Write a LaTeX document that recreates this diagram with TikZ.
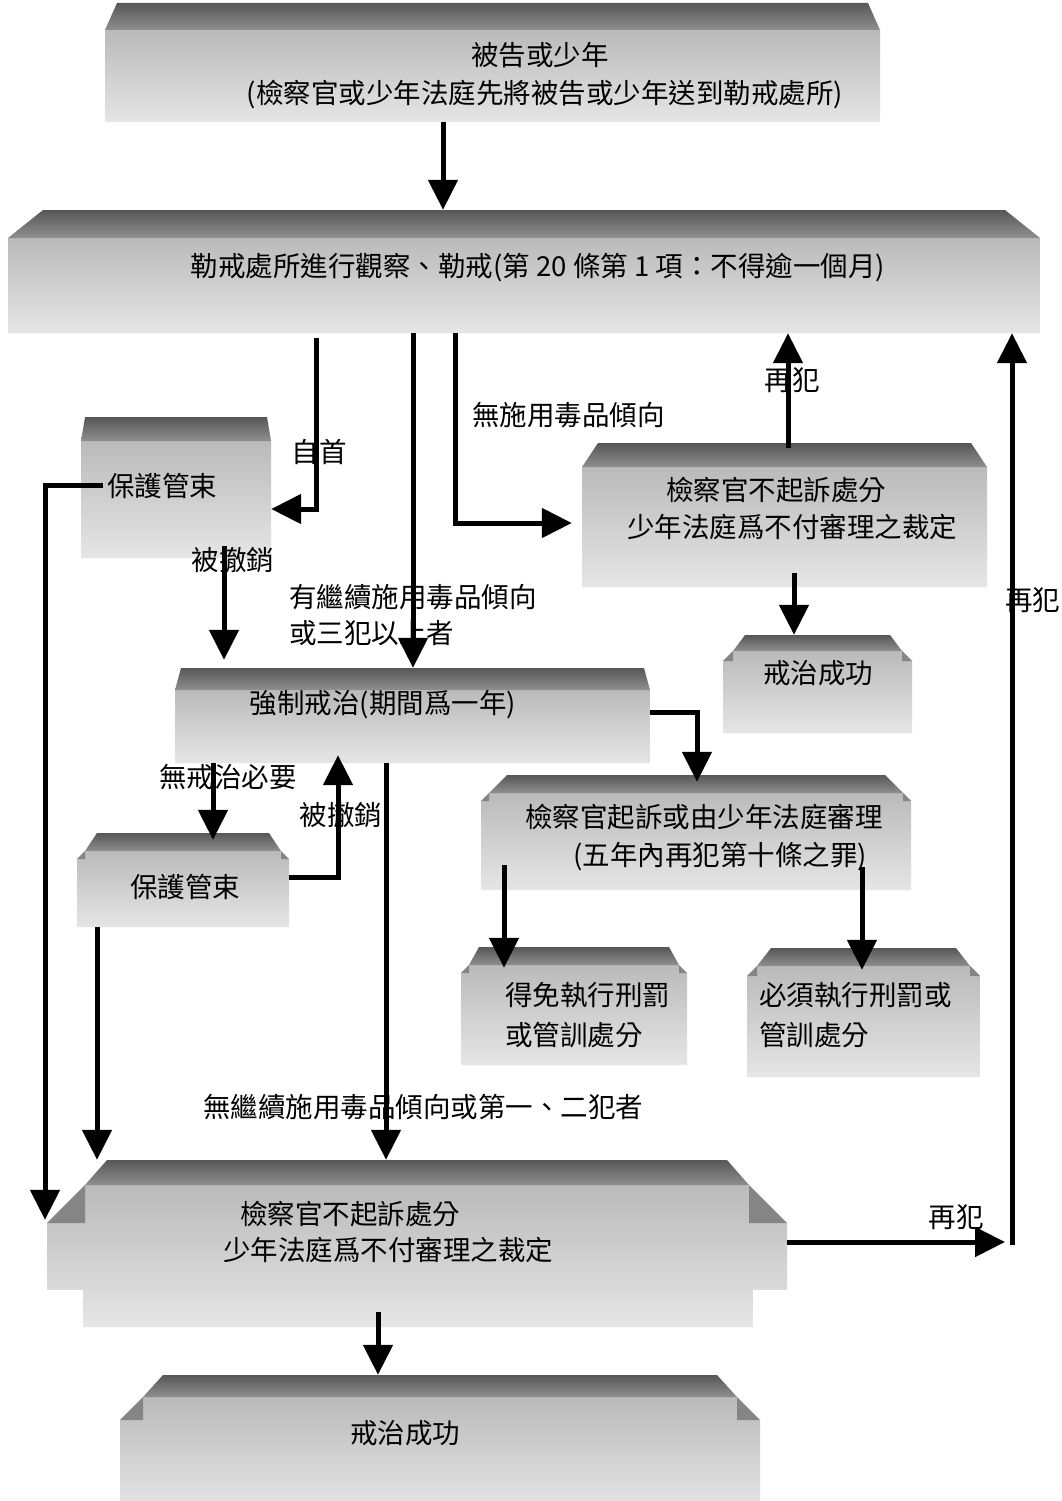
\documentclass[tikz,border=0pt]{standalone}
\usepackage{fontspec}
\setmainfont{Noto Sans CJK TC}
\usetikzlibrary{arrows.meta}
\tikzset{
  boxbody/.style={top color=black!27, bottom color=black!10},
  boxroof/.style={top color=black!66, bottom color=black!44},
  boxbev/.style={fill=black!48},
  lbl/.style={font=\fontsize{27.5}{34}\selectfont, inner sep=0pt},
  arr/.style={line width=5pt, -{Triangle[width=29pt,length=30pt]}},
}
% name, x1, y1, x2, y2, roof height, roof inset, bevel
\newcommand\grbox[8]{%
  \shade[boxbody] (#2,#3+#6+#8) -- (#2+#8,#3+#6) -- (#4-#8,#3+#6) -- (#4,#3+#6+#8) -- (#4,#5) -- (#2,#5) -- cycle;
  \fill[boxbev] (#2,#3+#6+#8) -- (#2+#8,#3+#6) -- (#2+#8,#3+#6+#8) -- cycle;
  \fill[boxbev] (#4,#3+#6+#8) -- (#4-#8,#3+#6) -- (#4-#8,#3+#6+#8) -- cycle;
  \shade[boxroof] (#2+#8,#3+#6) -- (#2+#8+#7,#3) -- (#4-#8-#7,#3) -- (#4-#8,#3+#6) -- cycle;
  \node[inner sep=0pt, minimum width={#4-#2}, minimum height={#5-#3}] (#1) at ({(#2+#4)/2},{(#3+#5)/2}) {};
}
\begin{document}
\begin{tikzpicture}[x=1pt,y=-1pt]
\useasboundingbox (0,0) rectangle (1062,1501);
\fill[white] (0,0) rectangle (1062,1501);

% boxes
\grbox{b1}{105}{3}{880}{122}{27}{12}{0}
\grbox{b2}{8}{210}{1040}{333}{28}{35}{0}
\grbox{p1}{81}{417}{271}{558}{24}{4}{0}
\grbox{d1}{582}{443}{987}{587}{24}{16}{0}
\grbox{s1}{723}{635}{912}{733}{16}{12}{10}
\grbox{f}{175}{668}{650}{763}{22}{6}{0}
\grbox{k}{481}{775}{911}{890}{18}{18}{8}
\grbox{p2}{77}{833}{289}{927}{18}{12}{8}
\grbox{e1}{461}{947}{687}{1065}{18}{10}{8}
\grbox{e2}{747}{948}{980}{1077}{18}{14}{10}
\grbox{d2}{47}{1160}{787}{1327}{25}{22}{38}
\fill[white] (46,1290) rectangle (83,1328);
\fill[white] (753,1290) rectangle (788,1328);
\grbox{s2}{120}{1375}{760}{1510}{22}{20}{23}

% texts in boxes
\node[lbl] (t1a) at (540,55) {被告或少年};
\node[lbl] (t1b) at (545,95) {(檢察官或少年法庭先將被告或少年送到勒戒處所)};
\node[lbl] (t2) at (538,268) {勒戒處所進行觀察、勒戒(第 20 條第 1 項：不得逾一個月)};
\node[lbl] (tp1) at (162,486) {保護管束};
\node[lbl] (td1a) at (776,490) {檢察官不起訴處分};
\node[lbl] (td1b) at (792,527) {少年法庭爲不付審理之裁定};
\node[lbl] (ts1) at (818,673) {戒治成功};
\node[lbl] (tf) at (383,705) {強制戒治(期間爲一年)};
\node[lbl] (tp2) at (185,887) {保護管束};
\node[lbl] (tk1) at (704,817) {檢察官起訴或由少年法庭審理};
\node[lbl] (tk2) at (720,857) {(五年內再犯第十條之罪)};
\node[lbl, anchor=west] (te1a) at (505,995) {得免執行刑罰};
\node[lbl, anchor=west] (te1b) at (505,1035) {或管訓處分};
\node[lbl, anchor=west] (te2a) at (759,995) {必須執行刑罰或};
\node[lbl, anchor=west] (te2b) at (759,1035) {管訓處分};
\node[lbl, anchor=west] (td2a) at (240,1214) {檢察官不起訴處分};
\node[lbl, anchor=west] (td2b) at (223,1250) {少年法庭爲不付審理之裁定};
\node[lbl] (ts2) at (405,1433) {戒治成功};

% connector labels
\node[lbl] (l1) at (319,452) {自首};
\node[lbl] (l2) at (233,560) {被撤銷};
\node[lbl, anchor=west] (l3a) at (289,597) {有繼續施用毒品傾向};
\node[lbl, anchor=west] (l3b) at (289,633) {或三犯以上者};
\node[lbl, anchor=west] (l4) at (472,415) {無施用毒品傾向};
\node[lbl] (l5) at (792,380) {再犯};
\node[lbl, anchor=west] (l6) at (1005,600) {再犯};
\node[lbl] (l7) at (228,777) {無戒治必要};
\node[lbl] (l8) at (341,815) {被撤銷};
\node[lbl] (l9) at (423,1107) {無繼續施用毒品傾向或第一、二犯者};
\node[lbl] (l10) at (956,1217) {再犯};

% connectors
\coordinate (k0) at (443,0);
\draw[arr] (b1.south -| k0) -- (b2.north -| k0);
\coordinate (k1) at (316,509);
\draw[arr] ([yshift=-5pt]b2.south -| k1) -- (k1) -- (p1.east |- k1);
\coordinate (k2) at (413,0);
\draw[arr] (b2.south -| k2) -- (f.north -| k2);
\coordinate (k3) at (455,523);
\draw[arr] (b2.south -| k3) -- (k3) -- ([xshift=-10pt]d1.west |- k3);
\coordinate (k4) at (788,0);
\draw[arr] ([yshift=-5pt]d1.north -| k4) -- (b2.south -| k4);
\coordinate (k5) at (794,0);
\draw[arr] ([yshift=14pt]d1.south -| k5) -- (s1.north -| k5);
\coordinate (k6) at (224,0);
\draw[arr] ([yshift=12pt]p1.south -| k6) -- ([yshift=8pt]f.north -| k6);
\coordinate (k7) at (45,485);
\draw[arr] ([xshift=22pt]p1.west |- k7) -- (k7) -- ([yshift=-60pt]k7 |- d2.north);
\coordinate (k8) at (697,712);
\draw[arr] (f.east |- k8) -- (k8) -- ([yshift=-7pt]k.north -| k8);
\coordinate (k9) at (213,0);
\draw[arr] (f.south -| k9) -- ([yshift=-7pt]p2.north -| k9);
\coordinate (k10) at (338,877);
\draw[arr] (p2.east |- k10) -- (k10) -- ([yshift=8pt]f.south -| k10);
\coordinate (k11) at (386,0);
\draw[arr] (f.south -| k11) -- (d2.north -| k11);
\coordinate (k12) at (97,0);
\draw[arr] (p2.south -| k12) -- (d2.north -| k12);
\coordinate (k13) at (504,0);
\draw[arr] ([yshift=25pt]k.south -| k13) -- ([yshift=-21pt]e1.north -| k13);
\coordinate (k14) at (862,0);
\draw[arr] ([yshift=23pt]k.south -| k14) -- ([yshift=-22pt]e2.north -| k14);
\coordinate (k15) at (1005,1242);
\draw[arr] (d2.east |- k15) -- (k15);
\coordinate (k16) at (1012,1245);
\draw[arr] (k16) -- (b2.south -| k16);
\coordinate (k17) at (378,0);
\draw[arr] ([yshift=15pt]d2.south -| k17) -- (s2.north -| k17);
\end{tikzpicture}
\end{document}
